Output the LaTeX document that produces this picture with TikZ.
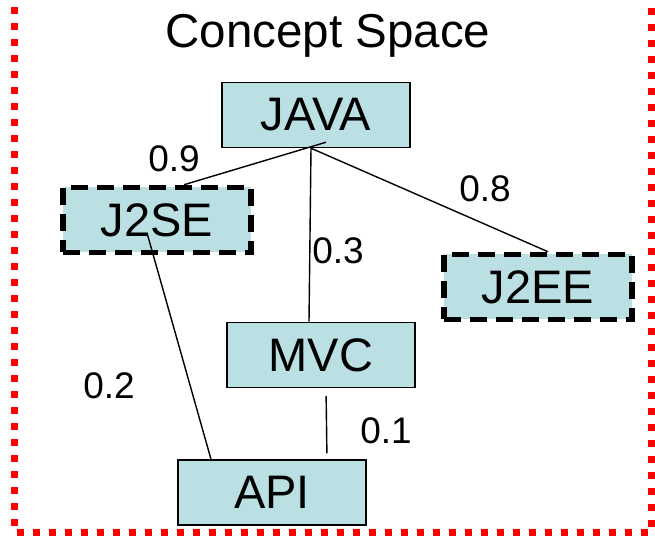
\documentclass[tikz,border=0pt]{standalone}
\usepackage{fontspec}
\setmainfont{Liberation Sans}
\definecolor{conceptfill}{RGB}{186,224,227}
\begin{document}
\begin{tikzpicture}[x=1pt, y=1pt,
	concept/.style={draw=black, line width=1.5pt, fill=conceptfill, minimum width=188pt, minimum height=65pt, inner sep=0pt, font=\fontsize{47}{56}\selectfont},
	hidden/.style={concept, line width=5.5pt, dash pattern=on 17pt off 9pt},
	weight/.style={anchor=base, inner sep=0pt, font=\fontsize{37}{44}\selectfont},
	link/.style={black, line width=1.4pt}]
		
		\useasboundingbox (0,0) rectangle (655,535);
		\draw[red, line width=7pt, dash pattern=on 7pt off 9pt] (14.5,560) -- (14.5,2.5) -- (651.5,2.5) -- (651.5,560);
		
		\node[anchor=base, font=\fontsize{47.5}{56}\selectfont] (title) at (328,487) {Concept Space};
		
		\node[concept] (JAVA) at (316,420) {JAVA};
		\node[hidden] (J2SE) at (157,315) {J2SE};
		\node[hidden] (J2EE) at (538,248) {J2EE};
		\node[concept] (MVC) at (321,180) {MVC};
		\node[concept] (API) at (272,42.5) {API};
		
		\draw[link] ([xshift=10pt, yshift=6pt]JAVA.south) -- ([xshift=27pt]J2SE.north);
		\draw[link] ([xshift=-5pt]JAVA.south) -- ([xshift=-12pt]MVC.north);
		\draw[link] ([xshift=-5pt]JAVA.south) -- ([xshift=10pt]J2EE.north);
		\draw[link] ([xshift=-10pt, yshift=-13pt]J2SE.center) -- ([xshift=-61pt]API.north);
		\draw[link, shorten <=8pt, shorten >=6pt] ([xshift=5pt]MVC.south) -- ([xshift=55pt]API.north);
		
		\node[weight] (w1) at (174,363) {0.9};
		\node[weight] (w2) at (485,333) {0.8};
		\node[weight] (w3) at (338,271) {0.3};
		\node[weight] (w4) at (109,136) {0.2};
		\node[weight] (w5) at (386,91) {0.1};
	\end{tikzpicture}
\end{document}
